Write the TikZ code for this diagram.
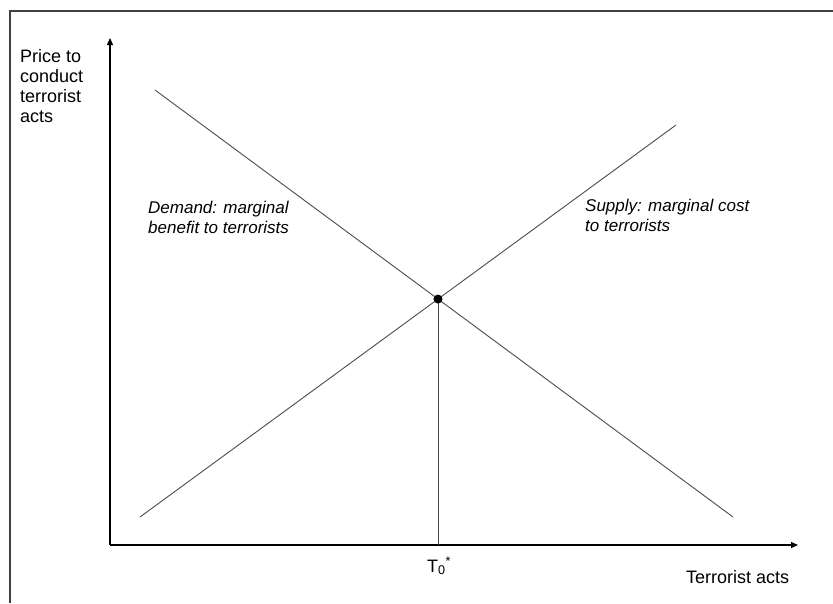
\documentclass[tikz,border=0pt]{standalone}
\usepackage{fontspec}
\setmainfont{Liberation Sans}
\usetikzlibrary{arrows.meta}
\begin{document}
\begin{tikzpicture}[x=1pt,y=-1pt,
  axis/.style={line width=1.1pt,-{Triangle[length=7pt,width=6pt]}},
  curve/.style={line width=0.9pt,black!70},
  frameline/.style={line width=1.3pt,black!75},
  lbl/.style={font=\fontsize{18}{20}\selectfont,inner sep=0pt,align=left},
  ilbl/.style={font=\fontsize{17}{20}\selectfont\itshape,inner sep=0pt,align=left}]
\useasboundingbox (0,0) rectangle (833,603);
\fill[white] (0,0) rectangle (833,603);
% frame
\coordinate (FTL) at (10,11);
\coordinate (FTR) at (833,11);
\coordinate (FBL) at (10,603);
\draw[frameline] (FBL) -- (FTL) -- (FTR);
% axes
\coordinate (O) at (110,545);
\coordinate (YT) at (110,38);
\coordinate (XT) at (798,545);
\draw[axis] (O) -- (YT);
\draw[axis] (O) -- (XT);
% curves
\coordinate (D1) at (155,90);
\coordinate (D2) at (733,517);
\coordinate (S1) at (140,517);
\coordinate (S2) at (676,125);
\draw[curve] (D1) -- (D2);
\draw[curve] (S1) -- (S2);
\coordinate (E) at (intersection of D1--D2 and S1--S2);
\coordinate (F) at (E |- O);
\draw[curve] (E) -- (F);
\fill (E) circle (4.5pt);
% labels
\node[lbl,anchor=base west] (ylab) at (20,122) {Price to\\conduct\\terrorist\\acts};
\node[lbl,anchor=base west] (xlab) at (686,583) {Terrorist acts};
\node[lbl,anchor=base west] (T0) at (427,572) {T\textsubscript{0}\textsuperscript{*}};
\node[ilbl,anchor=base west] (dem) at (148,233) {Demand: marginal\\benefit to terrorists};
\node[ilbl,anchor=base west] (sup) at (585,231) {Supply: marginal cost\\to terrorists};
\end{tikzpicture}
\end{document}
